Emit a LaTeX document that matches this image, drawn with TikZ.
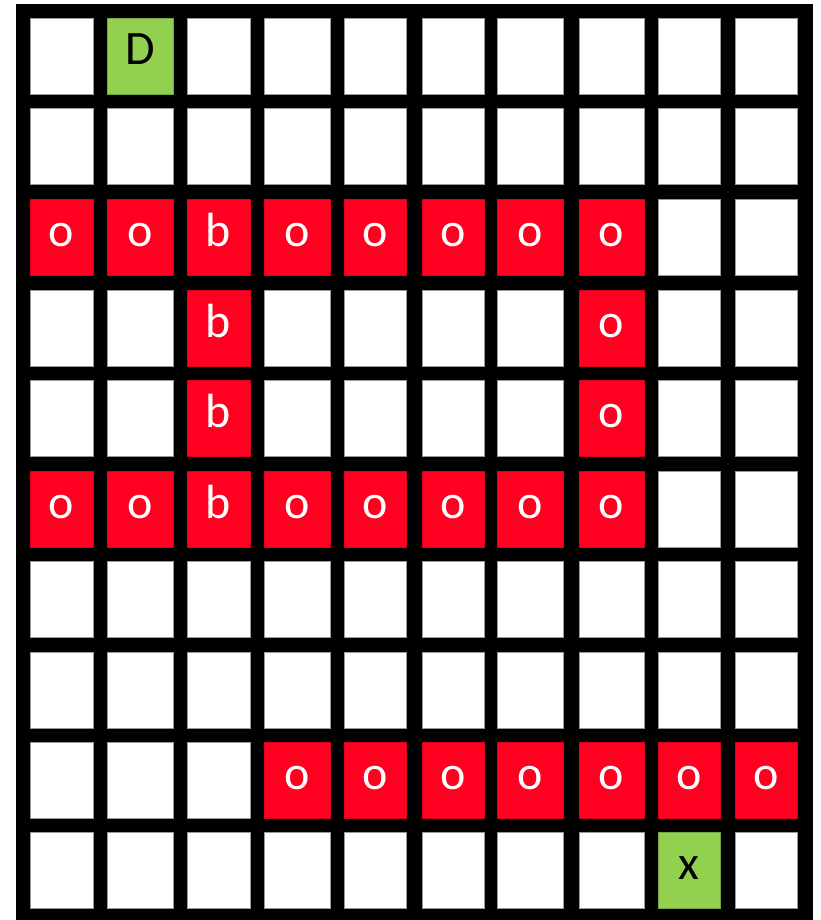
\documentclass[tikz,border=0pt]{standalone}
\usepackage{fontspec}
\setmainfont{Carlito}
\definecolor{cellred}{RGB}{255,0,32}
\definecolor{cellgreen}{RGB}{146,208,80}
\def\xl{{30,107,187,264,344,422,497,579,658,735}}
\def\xr{{93,173,250,330,406,484,563,644,720,797}}
\def\yt{{18,108,199,290,380,471,561,652,742,832}}
% 0 white, 1 red o, 2 red b, 3 green D, 4 green x
\def\gridcodes{{0,3,0,0,0,0,0,0,0,0,
0,0,0,0,0,0,0,0,0,0,
1,1,2,1,1,1,1,1,0,0,
0,0,2,0,0,0,0,1,0,0,
0,0,2,0,0,0,0,1,0,0,
1,1,2,1,1,1,1,1,0,0,
0,0,0,0,0,0,0,0,0,0,
0,0,0,0,0,0,0,0,0,0,
0,0,0,1,1,1,1,1,1,1,
0,0,0,0,0,0,0,0,4,0}}
\begin{document}
\begin{tikzpicture}[x=1pt,y=-1pt,
  cellbox/.style={rectangle, inner sep=0pt, outer sep=0pt, anchor=north west, minimum height=76pt},
  whitecell/.style={cellbox, fill=white, draw=gray!80, line width=0.6pt},
  redcell/.style={cellbox, fill=cellred, draw=cellred!85!black, line width=0.4pt},
  greencell/.style={cellbox, fill=cellgreen, draw=cellgreen!80!black, line width=0.4pt},
  celltext/.style={anchor=base, inner sep=0pt, font=\fontsize{48}{56}\selectfont},
  ]
\useasboundingbox (0,0) rectangle (820,920);
\node[fill=black, inner sep=0pt, outer sep=0pt, anchor=north west, minimum width=797pt, minimum height=916pt] (board) at (16,4) {};
\foreach \r in {0,...,9} {
  \foreach \c in {0,...,9} {
    \pgfmathtruncatemacro\idx{\r*10+\c}
    \pgfmathtruncatemacro\k{\gridcodes[\idx]}
    \pgfmathsetmacro\xa{\xl[\c]}
    \pgfmathsetmacro\xb{\xr[\c]}
    \pgfmathsetmacro\ya{\yt[\r]}
    \pgfmathsetmacro\w{\xb-\xa}
    \ifcase\k
      \node[whitecell, minimum width=\w pt] (c-\r-\c) at (\xa,\ya) {};
    \or
      \node[redcell, minimum width=\w pt] (c-\r-\c) at (\xa,\ya) {};
      \node[celltext, text=white] (t-\r-\c) at ([yshift=29pt]c-\r-\c.south) {o};
    \or
      \node[redcell, minimum width=\w pt] (c-\r-\c) at (\xa,\ya) {};
      \node[celltext, text=white] (t-\r-\c) at ([yshift=29pt]c-\r-\c.south) {b};
    \or
      \node[greencell, minimum width=\w pt] (c-\r-\c) at (\xa,\ya) {};
      \node[celltext, text=black] (t-\r-\c) at ([yshift=29pt]c-\r-\c.south) {D};
    \or
      \node[greencell, minimum width=\w pt] (c-\r-\c) at (\xa,\ya) {};
      \node[celltext, text=black] (t-\r-\c) at ([yshift=29pt]c-\r-\c.south) {x};
    \fi
  }
}
\end{tikzpicture}
\end{document}
